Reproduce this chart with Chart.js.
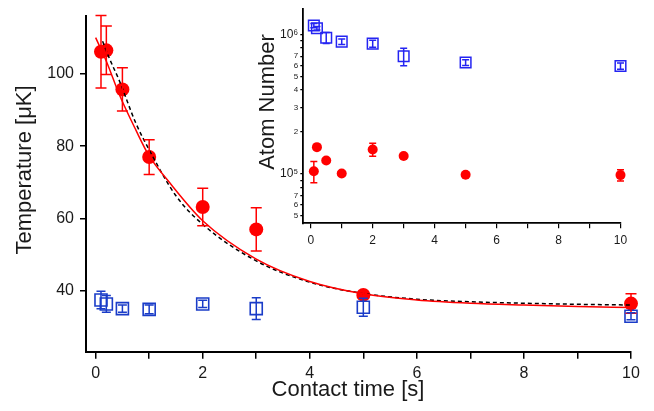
<!DOCTYPE html>
<html>
<head>
<meta charset="utf-8">
<script src="https://cdn.jsdelivr.net/npm/chart.js@4/dist/chart.umd.min.js"></script>
<style>
  html, body { margin: 0; padding: 0; background: #fff; }
  #wrap { position: relative; width: 654px; height: 411px; }
  #main { position: absolute; left: 0; top: 0; }
  #inset { position: absolute; left: 240px; top: 0; }
</style>
</head>
<body>
<div id="wrap">
  <canvas id="main" width="654" height="411"></canvas>
  <canvas id="inset" width="410" height="260"></canvas>
</div>
<script>
/* global Chart */

// Measured points (contact time in s)
const contactTime = [0.1, 0.2, 0.5, 1, 2, 3, 5, 10];
const tempRed = [106.1, 106.5, 95.7, 77.0, 63.2, 57.0, 38.9, 36.5];
const tempRedErr = [10, 6.7, 6, 4.8, 5.2, 6, 0.8, 2.7];
const tempBlue = [37.5, 36.4, 35.1, 34.9, 36.4, 35.1, 35.5, 33.0];
const tempBlueErr = [2.4, 2.3, 1, 1.2, 1, 3, 2.5, 1];

const atomsRed = [1.045e5, 1.556e5, 1.247e5, 1.006e5, 1.496e5, 1.345e5, 0.985e5, 0.98e5];
const atomsRedErr = [0.18e5, 0, 0, 0, 0.16e5, 0, 0, 0.09e5];
const atomsBlue = [1.16e6, 1.11e6, 0.948e6, 0.889e6, 0.861e6, 0.698e6, 0.63e6, 0.594e6];
const atomsBlueErr = [0.04e6, 0.03e6, 0.085e6, 0.04e6, 0.05e6, 0.1e6, 0.03e6, 0.03e6];

// Fit curves
const fitTime = [0, 0.2, 0.45, 0.75, 1, 1.35, 2, 3, 4, 5, 6, 7, 8, 9, 10];
const fitRed = [110, 103.5, 94, 84.5, 77.3, 70.5, 59.4, 48.8, 42.6, 39.2, 37.5, 36.6, 36.1, 35.7, 35.4];
const dashTime = [0.13, 0.25, 0.44, 0.75, 1, 1.5, 2, 3, 4, 5, 6, 7, 8, 9, 10];
const dashFit = [109, 104.5, 98.2, 86.4, 79.0, 66.3, 58.4, 48.3, 42.4, 39.3, 37.7, 37.0, 36.6, 36.3, 36.1];

// Ticks
const mainXTicks = [0, 1, 2, 3, 4, 5, 6, 7, 8, 9, 10];
const mainYTicks = [40, 60, 80, 100];
const insetXTicks = [0, 1, 2, 3, 4, 5, 6, 7, 8, 9, 10];
const insetYTicks = [5e4, 6e4, 7e4, 8e4, 9e4, 1e5, 2e5, 3e5, 4e5, 5e5, 6e5, 7e5, 8e5, 9e5, 1e6];

const FONT = "'Liberation Sans', Arial, sans-serif";
const INK = '#1a1a1a';
const RED = '#ff0000';
const BLUE_MAIN = '#1a3cc8';
const BLUE_INSET = '#2424f2';

const pts = (xs, ys) => xs.map((x, i) => ({ x, y: ys[i] }));

// vertical error bars with caps
const errorBars = {
	id: 'errorBars',
	afterDatasetsDraw(chart) {
		const { ctx } = chart;
		const x = chart.scales.x;
		const y = chart.scales.y;
		chart.data.datasets.forEach((ds) => {
			if (!ds.errors) return;
			ctx.save();
			ctx.strokeStyle = ds.borderColor;
			ctx.lineWidth = 1.5;
			ds.data.forEach((p, j) => {
				const e = ds.errors[j];
				if (!e) return;
				const px = x.getPixelForValue(p.x);
				const top = y.getPixelForValue(p.y + e);
				const bot = y.getPixelForValue(p.y - e);
				const c = ds.capWidth / 2;
				ctx.beginPath();
				ctx.moveTo(px, top); ctx.lineTo(px, bot);
				ctx.moveTo(px - c, top); ctx.lineTo(px + c, top);
				ctx.moveTo(px - c, bot); ctx.lineTo(px + c, bot);
				ctx.stroke();
			});
			ctx.restore();
		});
	}
};

// axis titles placed like the original figure
const axisText = {
	id: 'axisText',
	afterDraw(chart, args, opts) {
		const { ctx } = chart;
		(opts.items || []).forEach((t) => {
			ctx.save();
			ctx.translate(t.x, t.y);
			ctx.rotate(t.rotate || 0);
			ctx.font = t.size + 'px ' + FONT;
			ctx.fillStyle = INK;
			ctx.textAlign = 'center';
			ctx.textBaseline = 'alphabetic';
			ctx.fillText(t.text, 0, 0);
			ctx.restore();
		});
	}
};

const baseOpts = {
	responsive: false,
	animation: false,
	devicePixelRatio: 1,
	events: []
};

// Main chart: temperature
new Chart(document.getElementById('main'), {
	type: 'scatter',
	data: {
		datasets: [
			{
				type: 'line', data: pts(fitTime, fitRed), borderColor: RED, borderWidth: 1.5,
				pointRadius: 0, cubicInterpolationMode: 'monotone', fill: false, order: 0
			},
			{
				type: 'line', data: pts(dashTime, dashFit), borderColor: '#000', borderWidth: 1.5,
				borderDash: [4, 3], pointRadius: 0, cubicInterpolationMode: 'monotone', fill: false, order: 0
			},
			{
				data: pts(contactTime, tempRed), pointStyle: 'circle', pointRadius: 7,
				backgroundColor: RED, borderColor: RED, borderWidth: 0, errors: tempRedErr, capWidth: 11, order: 2
			},
			{
				data: pts(contactTime, tempBlue), pointStyle: 'rect', pointRadius: 8.5,
				backgroundColor: 'rgba(0,0,0,0)', borderColor: BLUE_MAIN, borderWidth: 1.6,
				errors: tempBlueErr, capWidth: 9, order: 1
			}
		]
	},
	options: {
		...baseOpts,
		clip: false,
		layout: { padding: { left: 0, right: 23, top: 11, bottom: 0 } },
		plugins: {
			legend: { display: false },
			tooltip: { enabled: false },
			axisText: {
				items: [
					{ text: 'Contact time [s]', x: 348, y: 396, size: 22 },
					{ text: 'Temperature [\u03BCK]', x: 31, y: 170, size: 22, rotate: -Math.PI / 2 }
				]
			}
		},
		scales: {
			x: {
				type: 'linear', min: -0.18, max: 10,
				afterBuildTicks: (s) => { s.ticks = mainXTicks.map((v) => ({ value: v })); },
				afterFit: (s) => { s.height = 59.3; },
				grid: { display: true, drawOnChartArea: false, drawTicks: true, tickLength: 7, color: '#000', lineWidth: 1.5 },
				border: { display: true, color: '#000', width: 2 },
				ticks: {
					callback: (v) => (v % 2 === 0 ? String(v) : ''),
					font: { family: FONT, size: 16 }, color: INK, padding: 5, maxRotation: 0, autoSkip: false
				}
			},
			y: {
				type: 'linear', min: 23.2, max: 116.1,
				afterBuildTicks: (s) => { s.ticks = mainYTicks.map((v) => ({ value: v })); },
				afterFit: (s) => { s.width = 86; },
				grid: { display: true, drawOnChartArea: false, drawTicks: true, tickLength: 6, color: '#000', lineWidth: 1.5 },
				border: { display: true, color: '#000', width: 2 },
				ticks: { font: { family: FONT, size: 16 }, color: INK, padding: 6 }
			}
		}
	},
	plugins: [errorBars, axisText]
});

// Inset: atom number (log scale)
const isPow10 = (v) => Math.abs(Math.log10(v) - Math.round(Math.log10(v))) < 1e-9;
const SUP = { 4: '\u2074', 5: '\u2075', 6: '\u2076', 7: '\u2077' };

new Chart(document.getElementById('inset'), {
	type: 'scatter',
	data: {
		datasets: [
			{
				data: pts(contactTime, atomsRed), pointStyle: 'circle', pointRadius: 5,
				backgroundColor: RED, borderColor: RED, borderWidth: 0, errors: atomsRedErr, capWidth: 7
			},
			{
				data: pts(contactTime, atomsBlue), pointStyle: 'rect', pointRadius: 7.5,
				backgroundColor: 'rgba(0,0,0,0)', borderColor: BLUE_INSET, borderWidth: 1.5,
				errors: atomsBlueErr, capWidth: 7
			}
		]
	},
	options: {
		...baseOpts,
		clip: false,
		layout: { padding: { left: 0, right: 29.5, top: 4, bottom: 0 } },
		plugins: {
			legend: { display: false },
			tooltip: { enabled: false },
			axisText: {
				items: [
					{ text: 'Atom Number', x: 34, y: 102, size: 22, rotate: -Math.PI / 2 }
				]
			}
		},
		scales: {
			x: {
				type: 'linear', min: -0.24, max: 10,
				afterBuildTicks: (s) => { s.ticks = insetXTicks.map((v) => ({ value: v })); },
				afterFit: (s) => { s.height = 36.7; },
				grid: { display: true, drawOnChartArea: false, drawTicks: true, tickLength: 5, color: '#000', lineWidth: 1.2 },
				border: { display: true, color: '#000', width: 1.8 },
				ticks: {
					callback: (v) => (v % 2 === 0 ? String(v) : ''),
					font: { family: FONT, size: 12 }, color: INK, padding: 5, maxRotation: 0, autoSkip: false
				}
			},
			y: {
				type: 'logarithmic', min: 44200, max: 1.52e6,
				afterBuildTicks: (s) => { s.ticks = insetYTicks.map((v) => ({ value: v })); },
				afterFit: (s) => { s.width = 63.3; },
				grid: { display: true, drawOnChartArea: false, drawTicks: true, tickLength: 3, color: '#000', lineWidth: 1.2 },
				border: { display: true, color: '#000', width: 1.8 },
				ticks: {
					autoSkip: false,
					callback: (v) => {
						if (isPow10(v)) return '10' + SUP[Math.round(Math.log10(v))];
						const m = Math.round(v / Math.pow(10, Math.floor(Math.log10(v))));
						return m <= 7 ? String(m) : '';
					},
					font: (c) => ({ family: FONT, size: c.tick && isPow10(c.tick.value) ? 12 : 8 }),
					color: INK, padding: 2
				}
			}
		}
	},
	plugins: [errorBars, axisText]
});
</script>
</body>
</html>
